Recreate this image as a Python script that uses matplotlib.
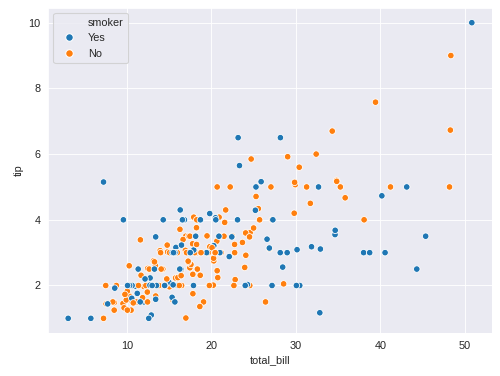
import matplotlib
matplotlib.use("Agg")
import matplotlib.pyplot as plt
from matplotlib.lines import Line2D
import seaborn as sns

total_bill = [
    16.99, 10.34, 21.01, 23.68, 24.59, 25.29, 8.77, 26.88, 15.04, 14.78,
    10.27, 35.26, 15.42, 18.43, 14.83, 21.58, 10.33, 16.29, 16.97, 20.65,
    17.92, 20.29, 15.77, 39.42, 19.82, 17.81, 13.37, 12.69, 21.70, 19.65,
    9.55, 18.35, 15.06, 20.69, 17.78, 24.06, 16.31, 16.93, 18.69, 31.27,
    16.04, 17.46, 13.94, 9.68, 30.40, 18.29, 22.23, 32.40, 28.55, 18.04,
    12.54, 10.29, 34.81, 9.94, 25.56, 19.49, 38.01, 26.41, 11.24, 48.27,
    20.29, 13.81, 11.02, 18.29, 17.59, 20.08, 16.45, 3.07, 20.23, 15.01,
    12.02, 17.07, 26.86, 25.28, 14.73, 10.51, 17.92, 27.20, 22.76, 17.29,
    19.44, 16.66, 10.07, 32.68, 15.98, 34.83, 13.03, 18.28, 24.71, 21.16,
    28.97, 22.49, 5.75, 16.32, 22.75, 40.17, 27.28, 12.03, 21.01, 12.46,
    11.35, 15.38, 44.30, 22.42, 20.92, 15.36, 20.49, 25.21, 18.24, 14.31,
    14.00, 7.25, 38.07, 23.95, 25.71, 17.31, 29.93, 10.65, 12.43, 24.08,
    11.69, 13.42, 14.26, 15.95, 12.48, 29.80, 8.52, 14.52, 11.38, 22.82,
    19.08, 20.27, 11.17, 12.26, 18.26, 8.51, 10.33, 14.15, 16.00, 13.16,
    17.47, 34.30, 41.19, 27.05, 16.43, 8.35, 18.64, 11.87, 9.78, 7.51,
    14.07, 13.13, 17.26, 24.55, 19.77, 29.85, 48.17, 25.00, 13.39, 16.49,
    21.50, 12.66, 16.21, 13.81, 17.51, 24.52, 20.76, 31.71, 10.59, 10.63,
    50.81, 15.81, 7.25, 31.85, 16.82, 32.90, 17.89, 14.48, 9.60, 34.63,
    34.65, 23.33, 45.35, 23.17, 40.55, 20.69, 20.90, 30.46, 18.15, 23.10,
    15.69, 19.81, 28.44, 15.48, 16.58, 7.56, 10.34, 43.11, 13.00, 13.51,
    18.71, 12.74, 13.00, 16.40, 20.53, 16.47, 26.59, 38.73, 24.27, 12.76,
    30.06, 25.89, 48.33, 13.27, 28.17, 12.90, 28.15, 11.59, 7.74, 30.14,
    12.16, 13.42, 8.58, 15.98, 13.42, 16.27, 10.09, 20.45, 13.28, 22.12,
    24.01, 15.69, 11.61, 10.77, 15.53, 10.07, 12.60, 32.83, 35.83, 29.03,
    27.18, 22.67, 17.82, 18.78,
]

tip = [
    1.01, 1.66, 3.50, 3.31, 3.61, 4.71, 2.00, 3.12, 1.96, 3.23,
    1.71, 5.00, 1.57, 3.00, 3.02, 3.92, 1.67, 3.71, 3.50, 3.35,
    4.08, 2.75, 2.23, 7.58, 3.18, 2.34, 2.00, 2.00, 4.30, 3.00,
    1.45, 2.50, 3.00, 2.45, 3.27, 3.60, 2.00, 3.07, 2.31, 5.00,
    2.24, 2.54, 3.06, 1.32, 5.60, 3.00, 5.00, 6.00, 2.05, 3.00,
    2.50, 2.60, 5.20, 1.56, 4.34, 3.51, 3.00, 1.50, 1.76, 6.73,
    3.21, 2.00, 1.98, 3.76, 2.64, 3.15, 2.47, 1.00, 2.01, 2.09,
    1.97, 3.00, 3.14, 5.00, 2.20, 1.25, 3.08, 4.00, 3.00, 2.71,
    3.00, 3.40, 1.83, 5.00, 2.03, 5.17, 2.00, 4.00, 5.85, 3.00,
    3.00, 3.50, 1.00, 4.30, 3.25, 4.73, 4.00, 1.50, 3.00, 1.50,
    2.50, 3.00, 2.50, 3.48, 4.08, 1.64, 4.06, 4.29, 3.76, 4.00,
    3.00, 1.00, 4.00, 2.55, 4.00, 3.50, 5.07, 1.50, 1.80, 2.92,
    2.31, 1.68, 2.50, 2.00, 2.52, 4.20, 1.48, 2.00, 2.00, 2.18,
    1.50, 2.83, 1.50, 2.00, 3.25, 1.25, 2.00, 2.00, 2.00, 2.75,
    3.50, 6.70, 5.00, 5.00, 2.30, 1.50, 1.36, 1.63, 1.73, 2.00,
    2.50, 2.00, 2.74, 2.00, 2.00, 5.14, 5.00, 3.75, 2.61, 2.00,
    3.50, 2.50, 2.00, 2.00, 3.00, 3.48, 2.24, 4.50, 1.61, 2.00,
    10.00, 3.16, 5.15, 3.18, 4.00, 3.11, 2.00, 2.00, 4.00, 3.55,
    3.68, 5.65, 3.50, 6.50, 3.00, 5.00, 3.50, 2.00, 3.50, 4.00,
    1.50, 4.19, 2.56, 2.02, 4.00, 1.44, 2.00, 5.00, 2.00, 2.00,
    4.00, 2.01, 2.00, 2.50, 4.00, 3.23, 3.41, 3.00, 2.03, 2.23,
    2.00, 5.16, 9.00, 2.50, 6.50, 1.10, 3.00, 1.50, 1.44, 3.09,
    2.20, 3.48, 1.92, 3.00, 1.58, 2.50, 2.00, 3.00, 2.72, 2.88,
    2.00, 3.00, 3.39, 1.47, 3.00, 1.25, 1.00, 1.17, 4.67, 5.92,
    2.00, 2.00, 1.75, 3.00,
]

# 'Y' = smoker, 'N' = non-smoker, same row order as above
smoker = (
    "NNNNNNNNNN" "NNNNNNNNNN" "NNNNNNNNNN" "NNNNNNNNNN" "NNNNNNNNNN"
    "NNNNNNYNYN" "YYYYNNNYNY" "NNYYNNYNNN" "YNNYNNNNNN" "YNYYNYYYYN"
    "YYYYNYYYNY" "NNNNNNNNNN" "NNNNNNNNNN" "NNNNNNNNYN" "NNNNNNNNNN"
    "NNNNNNNNNN" "NNNNYNNNYY" "YYYYYYYYYY" "YYYYYNYYYY" "YYYYYNYYYY"
    "YYYYYYYYYY" "YYNYYYYYYY" "YYYNYYYNNY" "YYNNYNYYNN" "YNNN"
)
hue_order = ["Yes", "No"]
palette = {"Yes": "#1f77b4", "No": "#ff7f0e"}

sns.set_style("darkgrid")
plt.rcParams["font.family"] = ["Liberation Sans", "DejaVu Sans"]
fig = plt.figure(figsize=(6.4, 4.8128), dpi=78.125)
ax = fig.add_axes([0.096, 0.114, 0.888, 0.865])

colors = [palette["Yes"] if s == "Y" else palette["No"] for s in smoker]
ax.scatter(total_bill, tip, c=colors, s=36, edgecolors="white", linewidths=0.75)

ax.set_xlabel("total_bill")
ax.set_ylabel("tip")

handles = [Line2D([], [], linestyle="none", marker="none")]
labels = ["smoker"]
for h in hue_order:
    handles.append(Line2D([], [], linestyle="none", marker="o", markersize=7,
                          markerfacecolor=palette[h], markeredgecolor="white"))
    labels.append(h)
ax.legend(handles, labels, loc="upper left")

fig.savefig("out.png")
